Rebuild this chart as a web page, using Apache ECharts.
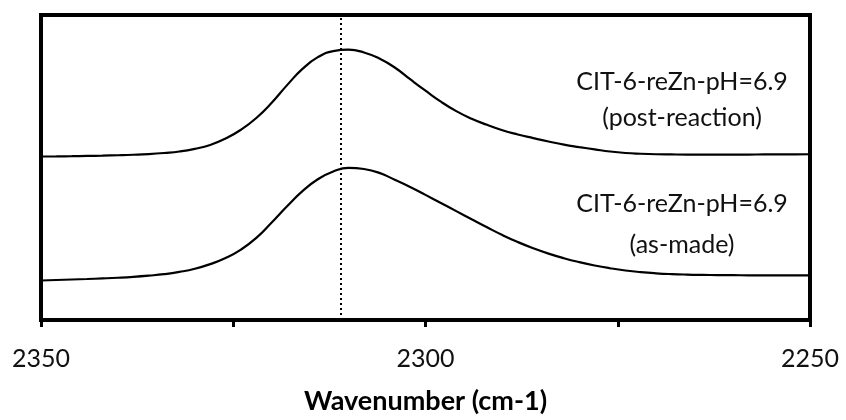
<!DOCTYPE html>
<html>
<head>
<meta charset="utf-8">
<script src="https://cdn.jsdelivr.net/npm/echarts@6/dist/echarts.min.js"></script>
<style>
html,body{margin:0;padding:0;background:#fff;}
#chart{width:846px;height:420px;}
</style>
</head>
<body>
<div id="chart"></div>
<script>
// Wavenumber grid (cm-1)
const wavenumbers = [2350, 2348, 2346, 2344, 2342, 2340, 2338, 2336, 2334, 2332, 2330, 2328, 2326, 2324, 2322, 2320, 2318, 2316, 2314, 2312, 2310, 2308, 2306, 2304, 2302, 2300, 2298, 2296, 2294, 2292, 2290, 2288, 2286, 2284, 2282, 2280, 2278, 2276, 2274, 2272, 2270, 2268, 2266, 2264, 2262, 2260, 2258, 2256, 2254, 2252, 2250];
// Offset absorbance, post-reaction (upper trace)
const postReaction = [1.667, 1.668, 1.670, 1.673, 1.676, 1.680, 1.685, 1.692, 1.703, 1.718, 1.745, 1.785, 1.850, 1.940, 2.060, 2.215, 2.395, 2.560, 2.680, 2.742, 2.756, 2.728, 2.666, 2.575, 2.455, 2.338, 2.226, 2.130, 2.052, 1.990, 1.935, 1.892, 1.855, 1.820, 1.788, 1.763, 1.740, 1.718, 1.703, 1.695, 1.690, 1.688, 1.687, 1.687, 1.687, 1.687, 1.687, 1.688, 1.688, 1.689, 1.690];
// Offset absorbance, as-made (lower trace)
const asMade = [0.403, 0.408, 0.413, 0.418, 0.424, 0.431, 0.440, 0.452, 0.467, 0.490, 0.522, 0.570, 0.632, 0.718, 0.837, 0.995, 1.160, 1.314, 1.435, 1.515, 1.552, 1.540, 1.500, 1.430, 1.357, 1.276, 1.193, 1.110, 1.027, 0.945, 0.866, 0.795, 0.732, 0.677, 0.630, 0.590, 0.556, 0.528, 0.505, 0.488, 0.476, 0.468, 0.463, 0.460, 0.458, 0.457, 0.456, 0.455, 0.455, 0.455, 0.455];
// Reference line position
const peakLine = [2311];
// Tick labels shown on the x axis
const xTickLabels = [2350, 2300, 2250];
const labelUpper = ['CIT-6-reZn-pH=6.9', '(post-reaction)'];
const labelLower = ['CIT-6-reZn-pH=6.9', '(as-made)'];
const xTitle = 'Wavenumber (cm-1)';

const pair = (xs, ys) => xs.map((x, i) => [x, ys[i]]);
const FONT = 'Lato';
const chart = echarts.init(document.getElementById('chart'), null, {renderer: 'canvas'});

const textEl = (txt, x, y) => ({
  type: 'text', x: x, y: y,
  style: {text: txt, fill: '#111', font: '25px ' + FONT, align: 'center', verticalAlign: 'middle', textAlign: 'center', textVerticalAlign: 'middle'}
});

chart.setOption({
  animation: false,
  textStyle: {fontFamily: FONT},
  grid: {left: 41, right: 36, top: 15, bottom: 94, show: true, borderColor: '#000', borderWidth: 4, containLabel: false},
  xAxis: {
    type: 'value', inverse: true, min: 2250, max: 2350, interval: 50,
    name: xTitle, nameLocation: 'middle', nameGap: 68,
    nameTextStyle: {fontFamily: FONT, fontWeight: 'bold', fontSize: 27, color: '#000'},
    axisLine: {show: true, lineStyle: {color: '#000', width: 4}},
    axisTick: {show: true, length: 7, lineStyle: {color: '#000', width: 3}},
    minorTick: {show: true, splitNumber: 2, length: 7, lineStyle: {color: '#000', width: 3}},
    splitLine: {show: false},
    axisLabel: {fontFamily: FONT, fontSize: 25, color: '#111', margin: 26,
      formatter: v => xTickLabels.includes(v) ? String(v) : ''}
  },
  yAxis: {
    type: 'value', min: 0, max: 3.11,
    axisLine: {show: false}, axisTick: {show: false}, axisLabel: {show: false}, splitLine: {show: false}
  },
  series: [
    {
      type: 'line', data: pair(wavenumbers, postReaction), smooth: 0.5, showSymbol: false,
      lineStyle: {color: '#000', width: 2.2},
      markLine: {
        silent: true, symbol: 'none', label: {show: false},
        lineStyle: {color: '#000', type: [2, 3], width: 2},
        data: peakLine.map(v => ({xAxis: v}))
      }
    },
    {
      type: 'line', data: pair(wavenumbers, asMade), smooth: 0.5, showSymbol: false,
      lineStyle: {color: '#000', width: 2.2}
    }
  ],
  graphic: [
    textEl(labelUpper[0], 682, 82),
    textEl(labelUpper[1], 682, 118),
    textEl(labelLower[0], 682, 204),
    textEl(labelLower[1], 682, 245)
  ]
});
</script>
</body>
</html>
